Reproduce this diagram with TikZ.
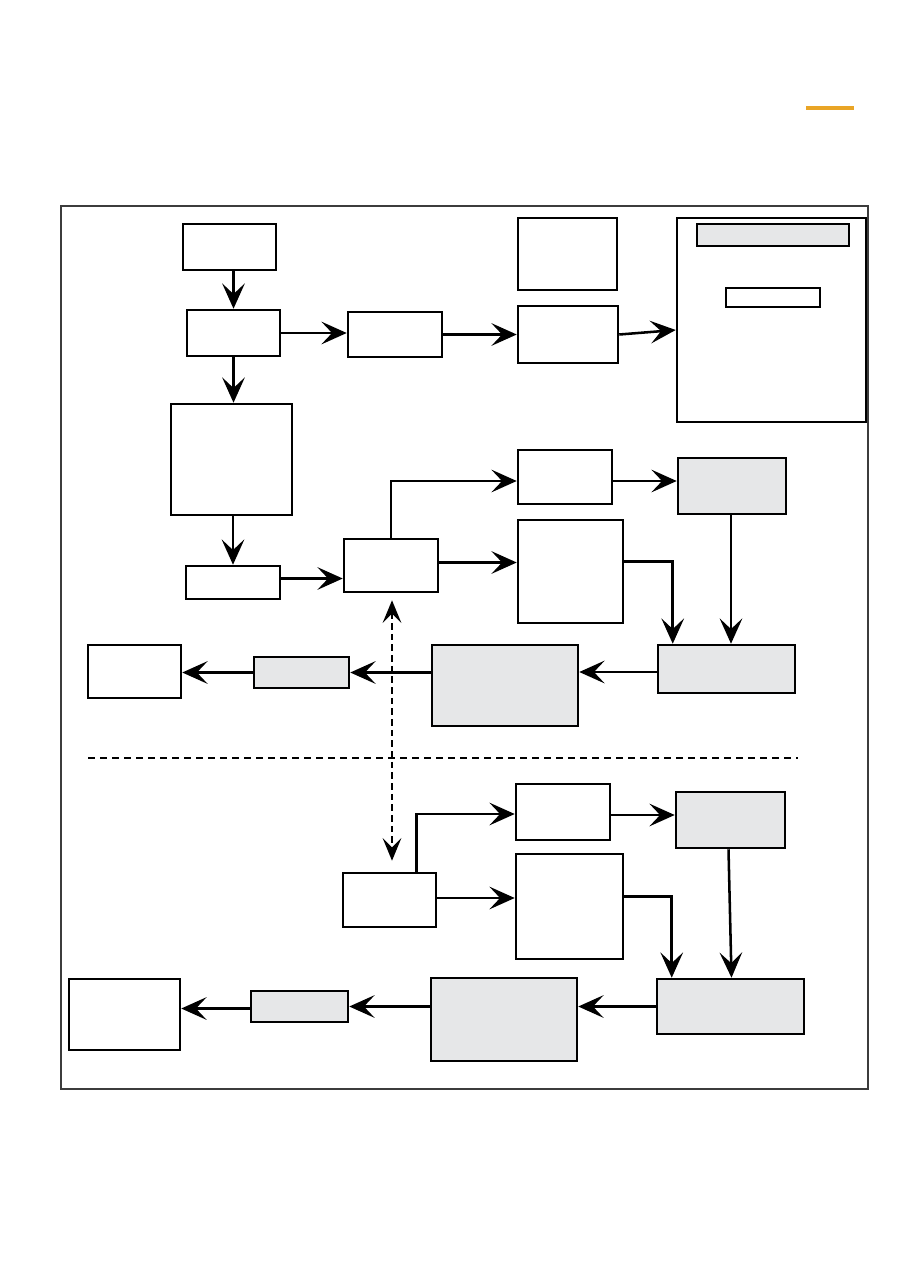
\documentclass[tikz,border=0pt]{standalone}
\usetikzlibrary{arrows.meta,calc,fit}
\definecolor{boxgray}{HTML}{E6E7E8}
\definecolor{framegray}{HTML}{3C3C3C}
\definecolor{barorange}{HTML}{E9A526}
\tikzset{
	box/.style={draw,line width=1.9pt,inner sep=0pt},
	thinbox/.style={draw,line width=1pt,inner sep=0pt},
	flow/.style={line width=1.9pt,-{Stealth[length=19pt,width=17pt,inset=8pt]}},
	link/.style={line width=1.9pt,dash pattern=on 5pt off 3pt,{Stealth[length=17pt,width=14pt,inset=7pt]}-{Stealth[length=17pt,width=14pt,inset=7pt]}}
}
\begin{document}
\begin{tikzpicture}[x=0.75pt,y=-0.75pt]
		\useasboundingbox (0,0) rectangle (909,1286);
		\draw[barorange,line width=3pt] (806,108)--(854,108);
		\draw[framegray,line width=0.9pt] (61,206) rectangle (868,1089);
		\draw[line width=0.9pt,dash pattern=on 5pt off 4pt] (88,758)--(798,758);
		\foreach \n/\c/\l/\t/\r/\b in {st/white/183/224/276/270,br/white/187/310/280/356,cv/white/348/312/442/357,
			pre/white/518/218/617/290,fd/white/518/306/618/363,pan/white/677/218/866/422,
			blk/white/171/404/292/515,tap/white/186/566/280/599,hub/white/344/539/438/592,
			up/white/518/450/612/504,upg/boxgray/678/458/786/514,mid/white/518/520/623/623,
			mrg/boxgray/658/645/795/693,big/boxgray/432/645/578/726,sm/boxgray/254/657/349/688,out/white/88/645/181/698,
			up2/white/516/784/610/840,upg2/boxgray/676/792/785/848,mid2/white/516/854/623/959,hub2/white/343/873/436/927,
			mrg2/boxgray/657/979/804/1034,big2/boxgray/431/978/577/1061,sm2/boxgray/251/991/348/1022,out2/white/69/979/180/1050}
		\node[box,fill=\c,fit={(\l,\t) (\r,\b)}] (\n) {};
		\node[thinbox,fill=boxgray,fit={(697,224) (849,246)}] (bar) {};
		\node[thinbox,fill=white,fit={(726,288) (820,307)}] (tag) {};
		% upper part
		\draw[flow] (br.north |- st.south)--(br.north);
		\draw[flow] (br.east)--(br.east -| cv.west);
		\draw[flow] (cv.east)--(cv.east -| fd.west);
		\draw[flow] (fd.east)--($(pan.west)+(0,10)$);
		\draw[flow] (br.south)--(br.south |- blk.north);
		\draw[flow] (tap.north |- blk.south)--(tap.north);
		\draw[flow] ($(tap.east)+(0,-4)$)--($(tap.east -| hub.west)+(0,-4)$);
		\draw[flow] (hub.north)|-($(up.west)+(0,4)$);
		\draw[flow] ($(hub.east)+(0,-3)$)--($(hub.east -| mid.west)+(0,-3)$);
		\draw[flow] ($(up.east)+(0,4)$)--($(up.east -| upg.west)+(0,4)$);
		\draw[flow] ($(upg.south)+(-1,0)$)--($(upg.south |- mrg.north)+(-1,0)$);
		\draw[flow] ($(mid.east)+(0,-10)$)-|($(mrg.north west)+(16,0)$);
		\draw[flow] ($(mrg.west)+(0,3)$)--($(mrg.west -| big.east)+(0,3)$);
		\draw[flow] (big.west |- sm.east)--(sm.east);
		\draw[flow] (sm.west)--(sm.west -| out.east);
		\draw[link] ($(hub.south)+(1,7)$)--($(hub2.north)+(2.5,-11)$);
		% lower part
		\draw[flow] ($(hub2.north)+(27,0)$)|-($(up2.west)+(0,2)$);
		\draw[flow] ($(hub2.east)+(0,-2)$)--($(hub2.east -| mid2.west)+(0,-2)$);
		\draw[flow] ($(up2.east)+(0,3)$)--($(up2.east -| upg2.west)+(0,3)$);
		\draw[flow] ($(upg2.south)+(-2,0)$)--($(mrg2.north)+(1,0)$);
		\draw[flow] ($(mid2.east)+(0,-10)$)-|($(mrg2.north west)+(16,0)$);
		\draw[flow] (mrg2.west)--(mrg2.west -| big2.east);
		\draw[flow] (big2.west |- sm2.east)--(sm2.east);
		\draw[flow] ($(sm2.west)+(0,2)$)--($(sm2.west -| out2.east)+(0,2)$);
	\end{tikzpicture}
\end{document}
